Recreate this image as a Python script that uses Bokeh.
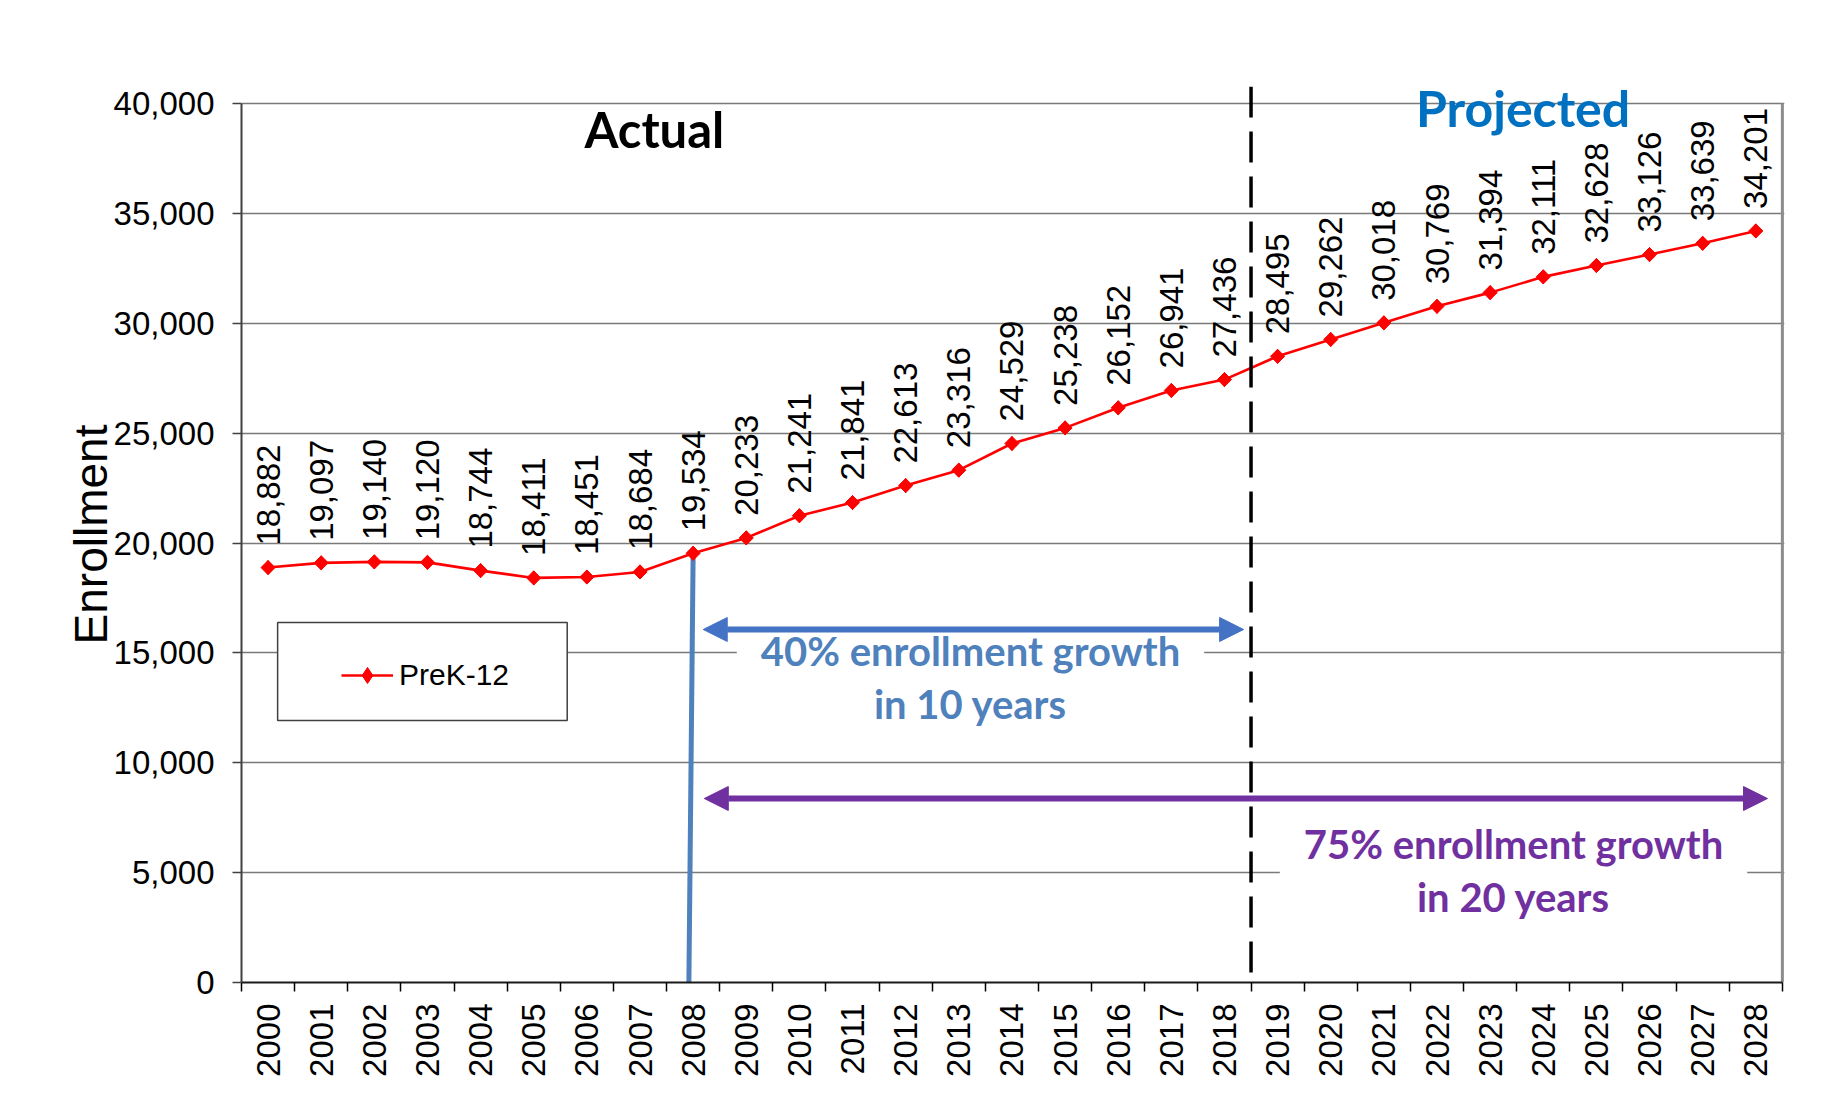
import math
from bokeh.plotting import figure
from bokeh.models import (Range1d, FixedTicker, NumeralTickFormatter, CustomJSTickFormatter,
                          ColumnDataSource, Label, Arrow, NormalHead, Span, Legend,
                          LegendItem, BoxAnnotation)
from bokeh.core.properties import value
from bokeh.embed import file_html
from bokeh.resources import INLINE

# ---------------- data ----------------
years = list(range(2000, 2029))
enrollment = [18882, 19097, 19140, 19120, 18744, 18411, 18451, 18684, 19534, 20233,
              21241, 21841, 22613, 23316, 24529, 25238, 26152, 26941, 27436,
              28495, 29262, 30018, 30769, 31394, 32111, 32628, 33126, 33639, 34201]
n_actual = 19  # 2000-2018 actual, 2019-2028 projected
y_ticks = [0, 5000, 10000, 15000, 20000, 25000, 30000, 35000, 40000]
year_labels = [str(y) for y in years]
series_name = "PreK-12"
y_title = "Enrollment"
actual_title = "Actual"
projected_title = "Projected"
growth10_text = "40% enrollment growth\nin 10 years"
growth20_text = "75% enrollment growth\nin 20 years"
base_year = 2008
end10_year = 2018
end20_year = 2028

# ---------------- figure ----------------
FONT = "Liberation Sans"
xs = [i + 0.5 for i in range(len(years))]
n = len(years)

p = figure(width=1829, height=1089, output_backend="svg", toolbar_location=None,
           x_range=Range1d(0, n + 0.04), y_range=Range1d(0, 40774),
           min_border_left=241, min_border_right=45, min_border_top=86, min_border_bottom=107)
p.outline_line_color = None
p.background_fill_color = "white"
p.border_fill_color = "white"

# slide frame (thin gray border at top/left of the picture)
p.add_layout(BoxAnnotation(left=8, right=3000, top=4, bottom=3000,
                           left_units="canvas", right_units="canvas",
                           top_units="canvas", bottom_units="canvas",
                           fill_alpha=0, line_color="#8c8c8c", line_alpha=1.0,
                           line_width=2))

# axes
xa = p.xaxis[0]
xa.ticker = FixedTicker(ticks=xs, minor_ticks=list(range(0, n + 1)))
xa.formatter = CustomJSTickFormatter(args=dict(labels=year_labels),
                                     code="return labels[Math.floor(tick)]")
xa.bounds = (0, n)
xa.major_tick_line_color = None
xa.major_tick_out = 9
xa.major_tick_in = 0
xa.minor_tick_line_color = "#000000"
xa.minor_tick_line_width = 1.5
xa.minor_tick_out = 9
xa.minor_tick_in = 0
xa.axis_line_color = "#1a1a1a"
xa.axis_line_width = 2
xa.major_label_orientation = math.pi / 2
xa.major_label_standoff = 12
xa.major_label_text_font = FONT
xa.major_label_text_font_size = "33px"
xa.major_label_text_color = "#000000"

ya = p.yaxis[0]
ya.ticker = FixedTicker(ticks=y_ticks)
ya.formatter = NumeralTickFormatter(format="0,0")
ya.bounds = (0, 40000)
ya.major_tick_out = 9
ya.major_tick_in = 0
ya.major_tick_line_color = "#404040"
ya.major_tick_line_width = 1.5
ya.minor_tick_line_color = None
ya.axis_line_color = "#404040"
ya.axis_line_width = 2
ya.major_label_standoff = 18
ya.major_label_text_font = FONT
ya.major_label_text_font_size = "33px"
ya.major_label_text_color = "#000000"
ya.axis_label = y_title
ya.axis_label_text_font = FONT
ya.axis_label_text_font_size = "46px"
ya.axis_label_text_font_style = "normal"
ya.axis_label_text_color = "#000000"
ya.axis_label_standoff = -6

p.xgrid.visible = False
p.ygrid.grid_line_color = "#7a7a7a"
p.ygrid.grid_line_width = 1.3

# right border of plot area
p.segment(x0=[n], y0=[0], x1=[n], y1=[y_ticks[-1]], line_color="#8c8c8c", line_width=3)

# blue vertical line at base year
bi = years.index(base_year)
p.segment(x0=[xs[bi] - 0.08], y0=[0], x1=[xs[bi]], y1=[enrollment[bi]],
          line_color="#4F81BD", line_width=5)

# series
src = ColumnDataSource(dict(x=xs, y=enrollment, lbl=[f"{v:,}" for v in enrollment]))
line_r = p.line("x", "y", source=src, line_color="#FF0000", line_width=2.6)
p.scatter("x", "y", source=src, marker="square", angle=math.pi / 4, size=10,
          fill_color="#FF0000", line_color="#FF0000")
mark_r = p.scatter("x", "y", source=src, marker="diamond", size=14,
                   fill_color="#FF0000", line_color="#FF0000")
p.text("x", "y", text="lbl", source=src, angle=math.pi / 2, text_align="left",
       text_baseline="middle", y_offset=-22, text_font=value(FONT),
       text_font_size="33px", text_color="#000000")

# actual / projected divider
p.add_layout(Span(location=n_actual, dimension="height", line_color="#000000",
                  line_width=3.5, line_dash="31 14"))

# legend box + legend
p.add_layout(BoxAnnotation(left=0.68, right=6.13, bottom=11923, top=16382,
                           fill_color="white", fill_alpha=1.0,
                           line_color="#404040", line_alpha=1.0, line_width=1.5))
legend = Legend(items=[LegendItem(label=series_name, renderers=[line_r, mark_r])],
                location=(100, 287), padding=5, spacing=0, margin=0,
                border_line_color=None, background_fill_alpha=0,
                glyph_width=52, glyph_height=40, label_height=40, label_standoff=6,
                label_text_font=FONT, label_text_font_size="30px",
                label_text_color="#000000")
p.add_layout(legend, "center")

# titles
p.add_layout(Label(x=7.77, y=38862, text=actual_title, text_align="center",
                   text_baseline="middle", text_font="Lato",
                   text_font_style="bold", text_font_size="49px", text_color="#000000"))
p.add_layout(Label(x=24.12, y=39795, text=projected_title, text_align="center",
                   text_baseline="middle", text_font="Lato",
                   text_font_style="bold", text_font_size="50px", text_color="#0070C0"))

# growth labels
p.add_layout(Label(x=13.72, y=13880, text=growth10_text, text_align="center",
                   text_baseline="middle", text_font="Lato",
                   text_font_style="bold", text_font_size="40px", text_color="#4F81BD",
                   text_line_height=1.1, background_fill_color="white",
                   background_fill_alpha=1.0, padding=(24, 8)))
p.add_layout(Label(x=23.94, y=5097, text=growth20_text, text_align="center",
                   text_baseline="middle", text_font="Lato",
                   text_font_style="bold", text_font_size="40px", text_color="#7030A0",
                   text_line_height=1.1, background_fill_color="white",
                   background_fill_alpha=1.0, padding=(24, 8)))

# arrows
ei10 = years.index(end10_year)
ei20 = years.index(end20_year)
p.add_layout(Arrow(x_start=xs[bi] + 0.19, y_start=16064, x_end=xs[ei10] + 0.36, y_end=16064,
                   line_color="#4472C4", line_width=6,
                   start=NormalHead(size=24, fill_color="#4472C4", line_color="#4472C4"),
                   end=NormalHead(size=24, fill_color="#4472C4", line_color="#4472C4")))
p.add_layout(Arrow(x_start=xs[bi] + 0.21, y_start=8373, x_end=xs[ei20] + 0.22, y_end=8373,
                   line_color="#7030A0", line_width=6,
                   start=NormalHead(size=24, fill_color="#7030A0", line_color="#7030A0"),
                   end=NormalHead(size=24, fill_color="#7030A0", line_color="#7030A0")))

open("out.html", "w").write(file_html(p, INLINE))
